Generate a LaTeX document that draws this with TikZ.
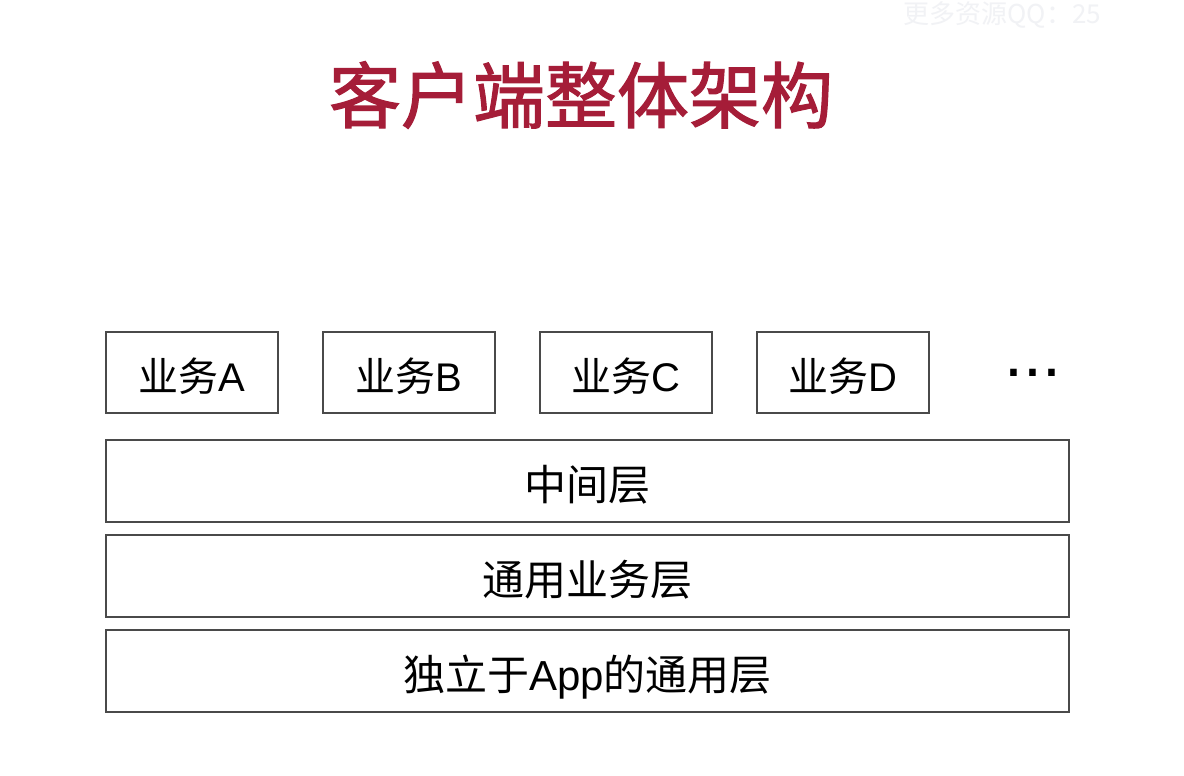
\documentclass[tikz,border=0pt]{standalone}
\usepackage{fontspec}
\setmainfont{Noto Sans CJK SC}
\newfontfamily\cjk{Noto Sans CJK SC}
\newfontfamily\cjkfat[FakeBold=1.6]{Noto Sans CJK SC}
\newfontfamily\lat{Liberation Sans}
\definecolor{titlered}{HTML}{A51D38}
\definecolor{boxline}{HTML}{4A4A4A}
\definecolor{wm}{HTML}{F1F2F5}
\begin{document}
\begin{tikzpicture}[x=1pt,y=-1pt,
  layerbox/.style={draw=boxline,line width=2pt,inner sep=0pt,text=black,text depth=5pt},
  bizbox/.style={layerbox,minimum width=172pt,minimum height=81pt,text height=42pt,font=\cjk\fontsize{40}{44}\selectfont},
  widebox/.style={layerbox,minimum width=963pt,minimum height=82pt,text height=44pt,font=\cjk\fontsize{42}{46}\selectfont},
]
\useasboundingbox (0,0) rectangle (1184,776);
\fill[white] (0,0) rectangle (1184,776);
\node[text=wm,font=\cjk\fontsize{26}{30}\selectfont,anchor=west] (wmark) at (900,15) {更多资源QQ：25};
\node[text=titlered,font=\cjkfat\fontsize{72}{80}\selectfont] (title) at (581,95) {客户端整体架构};
\node[bizbox] (bA) at (192,372.5) {业务{\lat A}};
\node[bizbox] (bB) at (409,372.5) {业务{\lat B}};
\node[bizbox] (bC) at (626,372.5) {业务{\lat C}};
\node[bizbox] (bD) at (843,372.5) {业务{\lat D}};
\node[font=\lat\fontsize{68}{72}\selectfont,anchor=base,inner sep=0pt] (dots) at (1033,376) {...};
\node[widebox] (mid) at (587.5,481) {中间层};
\node[widebox] (common) at (587.5,576) {通用业务层};
\node[widebox] (base) at (587.5,671) {独立于{\lat App}的通用层};
\end{tikzpicture}
\end{document}
